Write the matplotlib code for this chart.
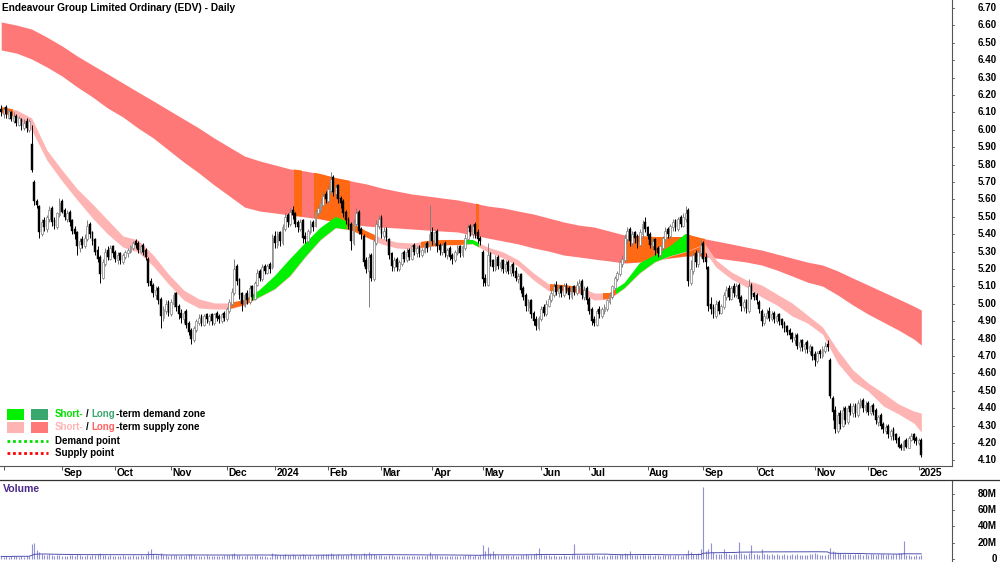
import matplotlib
matplotlib.use("Agg")
import matplotlib.pyplot as plt
import matplotlib.transforms as mtransforms
from matplotlib.patches import Rectangle
from matplotlib.lines import Line2D
import numpy as np
import pandas as pd

plt.rcParams['font.family'] = ['Liberation Sans', 'DejaVu Sans']

title = "Endeavour Group Limited Ordinary (EDV) - Daily"

# trading calendar (ASX)
first_day = '2023-07-31'
last_day = '2025-01-03'
asx_holidays = ['2023-12-25', '2023-12-26', '2024-01-01', '2024-01-26', '2024-03-29',
                '2024-04-01', '2024-04-25', '2024-06-10', '2024-12-25', '2024-12-26',
                '2025-01-01']

# daily OHLC
opens = [
    6.12, 6.09, 6.13, 6.07, 6.10, 6.05, 6.08, 6.03, 6.06, 6.01,
    6.05, 6.00, 5.92, 5.70, 5.59, 5.56, 5.40, 5.48, 5.43, 5.49,
    5.55, 5.48, 5.44, 5.51, 5.59, 5.54, 5.49, 5.53, 5.48, 5.43,
    5.41, 5.32, 5.37, 5.33, 5.37, 5.46, 5.41, 5.37, 5.31, 5.27,
    5.15, 5.23, 5.31, 5.26, 5.33, 5.30, 5.25, 5.29, 5.24, 5.27,
    5.29, 5.30, 5.32, 5.36, 5.35, 5.30, 5.34, 5.31, 5.26, 5.13,
    5.11, 5.05, 5.09, 5.03, 4.92, 4.96, 5.01, 4.94, 5.00, 5.06,
    4.99, 4.95, 4.91, 4.96, 4.89, 4.85, 4.79, 4.85, 4.89, 4.93,
    4.88, 4.94, 4.90, 4.94, 4.89, 4.95, 4.93, 4.90, 4.95, 4.91,
    4.96, 5.00, 5.06, 5.22, 5.14, 5.06, 4.99, 5.06, 5.01, 5.10,
    5.03, 5.11, 5.19, 5.14, 5.22, 5.18, 5.23, 5.21, 5.39, 5.34,
    5.41, 5.35, 5.43, 5.51, 5.46, 5.54, 5.52, 5.47, 5.43, 5.48,
    5.39, 5.36, 5.41, 5.47, 5.45, 5.52, 5.54, 5.57, 5.63, 5.59,
    5.65, 5.73, 5.63, 5.68, 5.61, 5.59, 5.53, 5.49, 5.46, 5.35,
    5.46, 5.53, 5.43, 5.39, 5.25, 5.19, 5.28, 5.14, 5.35, 5.45,
    5.50, 5.39, 5.43, 5.37, 5.29, 5.21, 5.26, 5.20, 5.23, 5.30,
    5.25, 5.31, 5.26, 5.34, 5.29, 5.33, 5.28, 5.30, 5.35, 5.33,
    5.41, 5.35, 5.42, 5.34, 5.30, 5.35, 5.28, 5.32, 5.28, 5.25,
    5.29, 5.33, 5.28, 5.32, 5.37, 5.45, 5.40, 5.46, 5.41, 5.38,
    5.30, 5.15, 5.11, 5.29, 5.25, 5.20, 5.27, 5.21, 5.25, 5.19,
    5.24, 5.18, 5.23, 5.19, 5.14, 5.17, 5.09, 5.05, 4.98, 5.02,
    4.95, 4.91, 4.86, 4.91, 4.98, 4.94, 4.99, 5.02, 5.05, 5.11,
    5.06, 5.10, 5.05, 5.11, 5.09, 5.04, 5.10, 5.06, 5.10, 5.13,
    5.04, 5.09, 5.03, 4.97, 4.91, 4.88, 4.97, 4.93, 4.96, 4.97,
    5.01, 5.04, 5.09, 5.14, 5.17, 5.23, 5.25, 5.37, 5.43, 5.35,
    5.41, 5.39, 5.34, 5.40, 5.47, 5.44, 5.40, 5.33, 5.37, 5.32,
    5.28, 5.32, 5.37, 5.43, 5.39, 5.44, 5.48, 5.43, 5.50, 5.45,
    5.49, 5.54, 5.12, 5.19, 5.29, 5.23, 5.29, 5.35, 5.27, 5.21,
    5.00, 4.98, 4.93, 5.01, 4.95, 4.98, 5.04, 5.09, 5.03, 5.10,
    5.05, 5.11, 5.04, 4.98, 5.02, 4.96, 5.11, 5.06, 5.05, 5.01,
    4.96, 4.89, 4.92, 4.96, 4.91, 4.95, 4.90, 4.94, 4.91, 4.89,
    4.87, 4.85, 4.83, 4.79, 4.82, 4.75, 4.79, 4.74, 4.78, 4.73,
    4.75, 4.71, 4.67, 4.73, 4.70, 4.73, 4.77, 4.68, 4.46, 4.39,
    4.27, 4.37, 4.30, 4.40, 4.32, 4.41, 4.37, 4.42, 4.36, 4.42,
    4.45, 4.39, 4.43, 4.37, 4.42, 4.39, 4.32, 4.36, 4.31, 4.27,
    4.30, 4.24, 4.28, 4.25, 4.23, 4.19, 4.16, 4.22, 4.17, 4.22,
    4.25, 4.23, 4.20, 4.22,
]
highs = [
    6.14, 6.13, 6.14, 6.12, 6.11, 6.10, 6.09, 6.08, 6.07, 6.06,
    6.07, 6.06, 6.03, 5.71, 5.60, 5.57, 5.49, 5.50, 5.51, 5.56,
    5.56, 5.50, 5.53, 5.61, 5.60, 5.55, 5.54, 5.54, 5.49, 5.45,
    5.42, 5.38, 5.39, 5.40, 5.48, 5.47, 5.42, 5.38, 5.33, 5.28,
    5.26, 5.32, 5.33, 5.34, 5.34, 5.31, 5.30, 5.30, 5.29, 5.31,
    5.32, 5.34, 5.36, 5.37, 5.36, 5.34, 5.35, 5.32, 5.27, 5.15,
    5.12, 5.10, 5.10, 5.04, 4.99, 5.02, 5.02, 5.03, 5.07, 5.07,
    5.00, 4.97, 4.96, 4.97, 4.90, 4.86, 4.87, 4.91, 4.94, 4.94,
    4.94, 4.95, 4.94, 4.95, 4.95, 4.96, 4.94, 4.95, 4.96, 4.98,
    5.03, 5.09, 5.26, 5.23, 5.15, 5.07, 5.06, 5.08, 5.11, 5.11,
    5.13, 5.20, 5.20, 5.23, 5.23, 5.23, 5.24, 5.40, 5.42, 5.42,
    5.42, 5.46, 5.52, 5.52, 5.55, 5.56, 5.53, 5.48, 5.49, 5.49,
    5.41, 5.43, 5.48, 5.48, 5.54, 5.57, 5.60, 5.64, 5.65, 5.68,
    5.76, 5.74, 5.69, 5.69, 5.62, 5.60, 5.54, 5.50, 5.47, 5.49,
    5.55, 5.54, 5.44, 5.40, 5.27, 5.29, 5.29, 5.37, 5.48, 5.51,
    5.51, 5.44, 5.44, 5.38, 5.30, 5.27, 5.27, 5.25, 5.30, 5.31,
    5.32, 5.32, 5.34, 5.35, 5.33, 5.34, 5.32, 5.35, 5.36, 5.57,
    5.44, 5.42, 5.43, 5.35, 5.35, 5.36, 5.32, 5.33, 5.29, 5.31,
    5.34, 5.34, 5.34, 5.40, 5.46, 5.46, 5.46, 5.47, 5.43, 5.39,
    5.31, 5.17, 5.35, 5.30, 5.26, 5.28, 5.28, 5.26, 5.26, 5.25,
    5.25, 5.23, 5.24, 5.21, 5.18, 5.18, 5.10, 5.06, 5.03, 5.03,
    4.96, 4.93, 4.93, 4.99, 5.00, 5.02, 5.05, 5.08, 5.12, 5.13,
    5.11, 5.11, 5.12, 5.12, 5.10, 5.10, 5.11, 5.13, 5.14, 5.14,
    5.10, 5.10, 5.04, 4.98, 4.93, 4.97, 4.99, 4.98, 5.00, 5.03,
    5.06, 5.11, 5.16, 5.19, 5.25, 5.28, 5.40, 5.44, 5.44, 5.42,
    5.42, 5.40, 5.43, 5.48, 5.50, 5.45, 5.41, 5.38, 5.38, 5.33,
    5.34, 5.39, 5.44, 5.44, 5.46, 5.49, 5.49, 5.50, 5.51, 5.52,
    5.56, 5.55, 5.25, 5.30, 5.31, 5.31, 5.37, 5.36, 5.29, 5.22,
    5.04, 5.00, 5.02, 5.02, 5.00, 5.07, 5.10, 5.11, 5.10, 5.12,
    5.12, 5.12, 5.05, 5.03, 5.03, 5.14, 5.12, 5.07, 5.06, 5.02,
    4.97, 4.95, 4.97, 4.98, 4.96, 4.96, 4.94, 4.95, 4.92, 4.90,
    4.88, 4.86, 4.84, 4.83, 4.83, 4.80, 4.80, 4.78, 4.79, 4.77,
    4.76, 4.73, 4.73, 4.74, 4.76, 4.78, 4.79, 4.69, 4.47, 4.41,
    4.38, 4.39, 4.41, 4.41, 4.42, 4.43, 4.43, 4.43, 4.45, 4.46,
    4.46, 4.44, 4.44, 4.42, 4.43, 4.40, 4.36, 4.37, 4.32, 4.31,
    4.31, 4.28, 4.29, 4.26, 4.24, 4.20, 4.22, 4.23, 4.24, 4.26,
    4.26, 4.24, 4.23, 4.23,
]
lows = [
    6.08, 6.07, 6.07, 6.06, 6.05, 6.04, 6.02, 6.02, 6.00, 6.00,
    5.99, 5.99, 5.76, 5.57, 5.55, 5.38, 5.39, 5.42, 5.41, 5.47,
    5.45, 5.43, 5.43, 5.50, 5.52, 5.48, 5.47, 5.45, 5.40, 5.37,
    5.28, 5.30, 5.32, 5.32, 5.36, 5.38, 5.34, 5.28, 5.24, 5.12,
    5.14, 5.22, 5.25, 5.25, 5.27, 5.24, 5.23, 5.23, 5.23, 5.26,
    5.27, 5.29, 5.31, 5.32, 5.29, 5.29, 5.28, 5.25, 5.10, 5.07,
    5.04, 5.03, 5.00, 4.86, 4.90, 4.94, 4.93, 4.93, 4.98, 4.96,
    4.91, 4.89, 4.89, 4.86, 4.82, 4.77, 4.78, 4.84, 4.88, 4.87,
    4.87, 4.89, 4.88, 4.88, 4.88, 4.90, 4.89, 4.89, 4.90, 4.90,
    4.95, 4.99, 5.05, 5.11, 5.03, 4.96, 4.98, 5.00, 5.00, 5.02,
    5.02, 5.10, 5.13, 5.13, 5.17, 5.17, 5.18, 5.20, 5.32, 5.32,
    5.33, 5.34, 5.42, 5.44, 5.45, 5.49, 5.44, 5.41, 5.42, 5.35,
    5.35, 5.35, 5.40, 5.42, 5.44, 5.51, 5.52, 5.56, 5.58, 5.58,
    5.63, 5.62, 5.61, 5.58, 5.55, 5.50, 5.46, 5.43, 5.31, 5.34,
    5.45, 5.40, 5.37, 5.22, 5.18, 4.98, 5.13, 5.13, 5.34, 5.43,
    5.38, 5.37, 5.36, 5.26, 5.19, 5.19, 5.19, 5.19, 5.22, 5.24,
    5.24, 5.25, 5.25, 5.28, 5.27, 5.27, 5.27, 5.29, 5.30, 5.31,
    5.34, 5.33, 5.30, 5.28, 5.28, 5.27, 5.26, 5.25, 5.23, 5.24,
    5.28, 5.27, 5.27, 5.31, 5.36, 5.39, 5.38, 5.38, 5.35, 5.34,
    5.10, 5.10, 5.10, 5.22, 5.19, 5.19, 5.20, 5.19, 5.18, 5.18,
    5.17, 5.16, 5.16, 5.13, 5.12, 5.06, 5.02, 4.96, 4.96, 4.92,
    4.88, 4.85, 4.85, 4.90, 4.93, 4.93, 4.98, 5.01, 5.04, 5.05,
    5.04, 5.04, 5.04, 5.06, 5.03, 5.03, 5.05, 5.05, 5.08, 5.03,
    5.02, 5.00, 4.94, 4.88, 4.87, 4.87, 4.92, 4.92, 4.94, 4.96,
    5.00, 5.03, 5.08, 5.13, 5.16, 5.21, 5.24, 5.35, 5.33, 5.33,
    5.35, 5.32, 5.33, 5.38, 5.41, 5.37, 5.32, 5.31, 5.28, 5.27,
    5.27, 5.31, 5.36, 5.38, 5.38, 5.42, 5.42, 5.42, 5.44, 5.44,
    5.47, 5.10, 5.11, 5.17, 5.21, 5.21, 5.27, 5.24, 5.20, 4.96,
    4.94, 4.92, 4.92, 4.94, 4.94, 4.97, 5.02, 5.02, 5.02, 5.04,
    5.04, 5.01, 4.96, 4.96, 4.95, 4.95, 5.03, 5.02, 5.00, 4.95,
    4.87, 4.88, 4.91, 4.90, 4.90, 4.89, 4.89, 4.88, 4.86, 4.84,
    4.82, 4.80, 4.78, 4.77, 4.74, 4.73, 4.73, 4.72, 4.72, 4.71,
    4.68, 4.64, 4.66, 4.69, 4.69, 4.72, 4.73, 4.46, 4.33, 4.26,
    4.26, 4.28, 4.29, 4.31, 4.31, 4.36, 4.35, 4.35, 4.35, 4.40,
    4.38, 4.37, 4.36, 4.36, 4.36, 4.31, 4.30, 4.28, 4.26, 4.25,
    4.23, 4.22, 4.22, 4.20, 4.17, 4.16, 4.16, 4.17, 4.17, 4.21,
    4.20, 4.19, 4.19, 4.12,
]
closes = [
    6.10, 6.12, 6.09, 6.11, 6.06, 6.08, 6.04, 6.07, 6.02, 6.04,
    6.01, 6.05, 5.77, 5.59, 5.57, 5.41, 5.47, 5.44, 5.50, 5.54,
    5.47, 5.45, 5.52, 5.58, 5.53, 5.50, 5.52, 5.47, 5.42, 5.40,
    5.33, 5.36, 5.34, 5.38, 5.45, 5.40, 5.36, 5.30, 5.26, 5.17,
    5.24, 5.30, 5.27, 5.32, 5.29, 5.26, 5.28, 5.25, 5.28, 5.30,
    5.31, 5.33, 5.35, 5.34, 5.31, 5.33, 5.30, 5.27, 5.12, 5.10,
    5.06, 5.08, 5.02, 4.93, 4.97, 5.00, 4.95, 5.01, 5.05, 4.98,
    4.94, 4.92, 4.95, 4.88, 4.84, 4.80, 4.86, 4.90, 4.92, 4.89,
    4.93, 4.91, 4.93, 4.90, 4.94, 4.92, 4.91, 4.94, 4.92, 4.97,
    5.01, 5.07, 5.20, 5.13, 5.05, 5.00, 5.05, 5.02, 5.09, 5.04,
    5.12, 5.18, 5.15, 5.21, 5.19, 5.22, 5.20, 5.38, 5.35, 5.40,
    5.36, 5.44, 5.50, 5.47, 5.53, 5.51, 5.46, 5.44, 5.47, 5.38,
    5.37, 5.42, 5.46, 5.44, 5.53, 5.55, 5.58, 5.62, 5.60, 5.66,
    5.72, 5.64, 5.67, 5.60, 5.58, 5.52, 5.48, 5.45, 5.36, 5.47,
    5.52, 5.42, 5.40, 5.24, 5.20, 5.27, 5.15, 5.36, 5.46, 5.49,
    5.40, 5.42, 5.38, 5.28, 5.22, 5.25, 5.21, 5.24, 5.29, 5.26,
    5.30, 5.27, 5.33, 5.30, 5.32, 5.29, 5.31, 5.34, 5.32, 5.40,
    5.36, 5.41, 5.33, 5.31, 5.34, 5.29, 5.31, 5.27, 5.26, 5.30,
    5.32, 5.29, 5.33, 5.38, 5.44, 5.41, 5.45, 5.40, 5.37, 5.36,
    5.14, 5.12, 5.28, 5.24, 5.21, 5.26, 5.22, 5.24, 5.20, 5.23,
    5.19, 5.22, 5.18, 5.15, 5.16, 5.08, 5.04, 4.99, 5.01, 4.94,
    4.90, 4.87, 4.92, 4.97, 4.95, 5.00, 5.03, 5.06, 5.10, 5.07,
    5.09, 5.06, 5.10, 5.08, 5.05, 5.09, 5.07, 5.11, 5.12, 5.05,
    5.08, 5.02, 4.96, 4.90, 4.89, 4.96, 4.94, 4.97, 4.98, 5.02,
    5.05, 5.10, 5.15, 5.18, 5.24, 5.26, 5.38, 5.42, 5.36, 5.40,
    5.38, 5.35, 5.41, 5.46, 5.43, 5.39, 5.34, 5.36, 5.31, 5.29,
    5.33, 5.38, 5.42, 5.40, 5.45, 5.47, 5.44, 5.49, 5.46, 5.50,
    5.52, 5.13, 5.20, 5.28, 5.24, 5.30, 5.34, 5.26, 5.24, 4.99,
    4.97, 4.94, 5.00, 4.96, 4.99, 5.05, 5.08, 5.04, 5.09, 5.06,
    5.10, 5.03, 4.99, 5.01, 4.97, 5.10, 5.05, 5.04, 5.02, 4.97,
    4.90, 4.93, 4.95, 4.92, 4.94, 4.91, 4.93, 4.90, 4.88, 4.86,
    4.84, 4.82, 4.80, 4.81, 4.76, 4.78, 4.75, 4.77, 4.74, 4.76,
    4.70, 4.68, 4.72, 4.71, 4.74, 4.76, 4.75, 4.47, 4.38, 4.28,
    4.36, 4.31, 4.39, 4.33, 4.40, 4.38, 4.41, 4.37, 4.43, 4.44,
    4.40, 4.42, 4.38, 4.41, 4.38, 4.33, 4.35, 4.30, 4.28, 4.29,
    4.25, 4.27, 4.24, 4.22, 4.18, 4.17, 4.21, 4.18, 4.23, 4.24,
    4.22, 4.21, 4.22, 4.13,
]
# volume in millions of shares
volume_m = [
    3.2, 2.8, 3.5, 2.9, 3.1, 4.0, 3.3, 2.7, 3.6, 3.0,
    3.4, 4.2, 18.5, 19.8, 11.5, 9.0, 6.2, 5.1, 4.4, 5.8,
    4.6, 3.9, 4.3, 5.2, 3.8, 4.1, 3.5, 4.7, 5.5, 4.0,
    6.1, 4.4, 3.7, 4.2, 5.0, 3.9, 4.5, 4.8, 5.6, 7.4,
    5.2, 4.3, 3.8, 4.6, 4.0, 3.6, 4.1, 3.9, 4.4, 3.7,
    4.2, 3.8, 4.5, 4.0, 3.6, 4.3, 3.9, 4.7, 9.8, 12.6,
    6.4, 5.5, 5.0, 7.2, 5.3, 4.6, 4.2, 4.8, 5.1, 4.4,
    4.0, 4.6, 3.9, 5.4, 5.9, 6.3, 4.8, 4.2, 3.7, 4.1,
    3.8, 4.4, 3.5, 3.9, 4.2, 3.6, 3.4, 4.0, 5.2, 4.7,
    5.0, 6.1, 7.8, 5.4, 4.6, 4.2, 3.8, 4.3, 3.6, 3.9,
    4.5, 4.8, 3.7, 4.2, 3.3, 2.9, 2.6, 6.9, 5.8, 5.1,
    4.6, 5.5, 6.2, 4.9, 5.3, 6.0, 4.7, 4.1, 4.4, 5.8,
    4.8, 4.2, 4.6, 3.9, 5.2, 4.7, 5.4, 5.9, 6.6, 5.7,
    7.3, 6.2, 5.1, 5.6, 4.8, 5.3, 4.6, 5.0, 7.9, 6.3,
    5.4, 5.2, 4.6, 6.8, 5.9, 8.1, 5.7, 6.4, 5.5, 4.9,
    4.5, 4.2, 3.9, 5.1, 4.4, 3.8, 4.0, 3.6, 4.2, 3.7,
    3.5, 3.9, 4.1, 3.6, 3.3, 3.8, 3.4, 4.0, 4.6, 8.7,
    5.3, 4.4, 4.8, 3.9, 3.6, 4.2, 3.7, 3.5, 3.9, 3.4,
    3.8, 3.5, 4.0, 4.6, 5.1, 4.3, 4.0, 4.7, 4.2, 5.3,
    16.8, 9.2, 15.3, 7.1, 10.2, 5.6, 4.9, 5.2, 4.5, 4.8,
    4.3, 4.0, 4.6, 4.2, 3.9, 5.4, 5.0, 5.7, 4.6, 5.5,
    6.0, 6.8, 13.8, 5.9, 4.8, 4.4, 4.7, 4.1, 4.5, 3.9,
    4.2, 3.8, 4.4, 4.0, 3.7, 4.6, 18.6, 5.0, 4.3, 5.2,
    4.7, 5.1, 5.5, 5.9, 5.3, 4.6, 4.2, 3.9, 4.4, 4.1,
    4.5, 4.8, 5.3, 5.0, 5.6, 6.2, 7.0, 6.1, 9.8, 5.4,
    4.9, 4.6, 5.2, 5.7, 5.0, 4.8, 4.5, 4.2, 4.9, 4.4,
    4.1, 4.6, 4.3, 4.8, 4.5, 4.0, 4.4, 4.7, 4.2, 5.0,
    5.6, 11.6, 8.3, 6.4, 5.9, 7.2, 11.8, 88.0, 9.5, 12.0,
    19.6, 8.2, 6.5, 5.8, 6.1, 11.7, 6.9, 5.6, 5.2, 5.9,
    6.3, 20.8, 7.4, 6.0, 5.5, 6.8, 16.9, 6.2, 5.7, 5.3,
    11.9, 6.4, 5.8, 5.5, 5.9, 5.2, 5.6, 5.0, 5.4, 5.8,
    5.1, 5.5, 6.0, 5.3, 5.7, 5.0, 5.4, 4.9, 5.2, 5.6,
    6.2, 6.8, 5.7, 5.4, 5.0, 5.3, 5.6, 13.5, 9.8, 8.6,
    7.4, 6.9, 6.1, 6.5, 5.8, 6.2, 5.5, 5.9, 6.3, 5.7,
    5.4, 5.8, 5.2, 5.6, 6.0, 5.3, 5.7, 6.4, 6.1, 5.5,
    5.9, 5.2, 6.3, 6.0, 6.8, 7.1, 22.5, 5.4, 4.7, 4.2,
    3.8, 4.6, 3.5, 5.3,
]

# zone edges, read every 6th trading day (bar number of each reading)
band_idx = list(range(0, 361, 6)) + [363]
lt_upper = [
    6.620, 6.602, 6.579, 6.533, 6.482, 6.424, 6.372, 6.321, 6.269, 6.217,
    6.166, 6.114, 6.062, 6.010, 5.953, 5.901, 5.849, 5.821, 5.798, 5.775,
    5.763, 5.746, 5.723, 5.706, 5.689, 5.666, 5.648, 5.631, 5.620, 5.608,
    5.597, 5.580, 5.562, 5.551, 5.533, 5.516, 5.493, 5.470, 5.452, 5.441,
    5.418, 5.395, 5.390, 5.384, 5.384, 5.384, 5.378, 5.361, 5.344, 5.326,
    5.309, 5.286, 5.263, 5.240, 5.223, 5.189, 5.148, 5.108, 5.068, 5.028,
    4.987, 4.964,
]
lt_lower = [
    6.459, 6.441, 6.407, 6.361, 6.309, 6.246, 6.189, 6.125, 6.074, 6.010,
    5.953, 5.884, 5.815, 5.752, 5.683, 5.620, 5.556, 5.533, 5.522, 5.510,
    5.499, 5.487, 5.470, 5.459, 5.447, 5.441, 5.436, 5.430, 5.424, 5.418,
    5.413, 5.395, 5.378, 5.361, 5.344, 5.321, 5.303, 5.280, 5.269, 5.257,
    5.246, 5.234, 5.240, 5.252, 5.263, 5.274, 5.274, 5.263, 5.252, 5.240,
    5.223, 5.194, 5.160, 5.125, 5.102, 5.051, 4.993, 4.941, 4.895, 4.849,
    4.798, 4.763,
]
st_upper = [
    6.131, 6.114, 6.068, 5.884, 5.769, 5.660, 5.574, 5.482, 5.390, 5.367,
    5.280, 5.171, 5.079, 5.028, 5.005, 5.005, 5.022, 5.079, 5.160, 5.257,
    5.349, 5.436, 5.499, 5.464, 5.418, 5.378, 5.355, 5.349, 5.361, 5.367,
    5.367, 5.367, 5.326, 5.298, 5.252, 5.177, 5.114, 5.108, 5.097, 5.062,
    5.062, 5.120, 5.234, 5.280, 5.332, 5.401, 5.378, 5.252, 5.183, 5.137,
    5.108, 5.056, 5.005, 4.936, 4.867, 4.734, 4.620, 4.545, 4.487, 4.424,
    4.384, 4.372,
]
st_lower = [
    6.097, 6.074, 5.999, 5.826, 5.706, 5.597, 5.493, 5.401, 5.326, 5.298,
    5.217, 5.114, 5.022, 4.976, 4.970, 4.970, 4.993, 5.039, 5.085, 5.160,
    5.269, 5.367, 5.436, 5.424, 5.383, 5.344, 5.321, 5.315, 5.326, 5.338,
    5.338, 5.344, 5.298, 5.263, 5.217, 5.137, 5.074, 5.074, 5.062, 5.022,
    5.028, 5.091, 5.177, 5.240, 5.274, 5.298, 5.332, 5.211, 5.143, 5.097,
    5.039, 4.993, 4.930, 4.890, 4.826, 4.660, 4.556, 4.499, 4.413, 4.367,
    4.315, 4.263,
]
# (first bar, last bar) where a zone changes colour
lt_orange_bars = [(116, 118), (124, 137), (188, 188), (247, 277)]
st_orange_bars = [(0, 4), (90, 99), (137, 147), (166, 182), (217, 228), (238, 242), (272, 277)]
st_green_bars = [(100, 136), (183, 188), (243, 271)]

RED = '#ff7878'
PINK = '#ffb4b4'
GREEN = '#00f000'
DKGREEN = '#3aa86e'
ORANGE = '#ff6914'
AXIS = '#555555'

W, H = 1000, 562
fig = plt.figure(figsize=(W / 100, H / 100), dpi=100)
ax = fig.add_axes([0, (H - 466) / H, 952 / W, 466 / H])
axv = fig.add_axes([0, 0, 952 / W, 82 / H])

dates = pd.bdate_range(first_day, last_day, freq='C', holidays=asx_holidays)
x = np.arange(len(dates))
o = np.array(opens)
c = np.array(closes)
h = np.maximum(np.array(highs), np.maximum(o, c))
l = np.minimum(np.array(lows), np.minimum(o, c))

xmin, xmax = -0.473, 375.1
ax.set_xlim(xmin, xmax)
axv.set_xlim(xmin, xmax)
ax.set_ylim(4.068, 6.746)
axv.set_ylim(-3.7, 96.9)

# long-term zone with its orange parts
lt = ax.fill_between(band_idx, lt_lower, lt_upper, color=RED, lw=0, zorder=1)
for a, b in lt_orange_bars:
    sp = ax.axvspan(a - 0.5, b + 0.5, color=ORANGE, lw=0, zorder=1.2)
    sp.set_clip_path(lt.get_paths()[0], lt.get_transform())

# short-term zone
st = ax.fill_between(band_idx, st_lower, st_upper, color=PINK, lw=0, zorder=2)
for spans, col in ((st_orange_bars, ORANGE), (st_green_bars, GREEN)):
    for a, b in spans:
        sp = ax.axvspan(a - 0.5, b + 0.5, color=col, lw=0, zorder=2.2)
        sp.set_clip_path(st.get_paths()[0], st.get_transform())

# candles
up = c >= o
body = np.maximum(np.abs(c - o), 0.004)
bottom = np.minimum(o, c)
ax.vlines(x[up], l[up], h[up], color='#808080', lw=0.7, zorder=3)
ax.vlines(x[~up], l[~up], h[~up], color='black', lw=0.7, zorder=3)
ax.bar(x[up], body[up], bottom=bottom[up], width=0.72, color='white',
       edgecolor='#808080', lw=0.5, zorder=4)
ax.bar(x[~up], body[~up], bottom=bottom[~up], width=0.72, color='black',
       edgecolor='black', lw=0.3, zorder=4)

# volume
vol = np.array(volume_m)
axv.vlines(x, 0, vol, color='#9090d6', lw=0.8)
axv.plot(x, pd.Series(vol).rolling(50, min_periods=1).mean(), color='#5050b0', lw=0.7)

for a in (ax, axv):
    a.spines['left'].set_visible(False)
    a.spines['right'].set_color(AXIS)
    a.spines['right'].set_linewidth(0.8)
    a.set_yticks([])
    a.patch.set_alpha(0)
ax.spines['top'].set_visible(False)
ax.spines['bottom'].set_color(AXIS)
ax.spines['bottom'].set_linewidth(0.8)
axv.spines['top'].set_visible(False)
axv.spines['bottom'].set_visible(False)
axv.set_xticks([])
fig.add_artist(Line2D([0, 1], [82 / H, 82 / H], color='#333333', lw=0.9))

# price labels on the right
ytr = mtransforms.blended_transform_factory(fig.transFigure, ax.transData)
prices = np.round(np.arange(4.1, 6.705, 0.1), 2)
for p in prices:
    ax.plot([xmax, xmax + 0.9], [p, p], color=AXIS, lw=0.6, clip_on=False)
    ax.text(997 / W, p, f'{p:.2f}', transform=ytr, ha='right', va='center',
            fontsize=7, weight='bold', clip_on=False)
vtr = mtransforms.blended_transform_factory(fig.transFigure, axv.transData)
for v in [0, 20, 40, 60, 80]:
    axv.plot([xmax, xmax + 0.9], [v, v], color=AXIS, lw=0.6, clip_on=False)
    axv.text(997 / W, v, '0' if v == 0 else f'{v}M', transform=vtr, ha='right',
             va='center', fontsize=7, weight='bold', clip_on=False)

# month ticks and labels in the date strip
months = dates.to_period('M')
tick_pos = [i for i in range(1, len(dates)) if months[i] != months[i - 1]]
ax.set_xticks(tick_pos)
ax.tick_params(axis='x', direction='out', length=3, width=0.7, color=AXIS,
               labelbottom=False)
xtr = mtransforms.blended_transform_factory(ax.transData, fig.transFigure)
for i in tick_pos:
    if i < 10:
        continue
    d = dates[i]
    lab = str(d.year) if d.month == 1 else d.strftime('%b')
    ax.text(i + 0.5, 1 - 473.5 / H, lab, transform=xtr, ha='left', va='center',
            fontsize=7.4, weight='bold', clip_on=False)

fig.text(2 / W, 1 - 8 / H, title, fontsize=7.3, weight='bold', va='center')
fig.text(3 / W, 1 - 489 / H, 'Volume', fontsize=7.6, weight='bold',
         color='#4b2a8c', va='center')

# legend
renderer = fig.canvas.get_renderer()


def text_w(s):
    t = fig.text(0, 0, s, fontsize=7, weight='bold')
    w = t.get_window_extent(renderer).width
    t.remove()
    return w


def legend_text(px, py, parts):
    prefix = ''
    for s, col in parts:
        off = text_w(prefix + 'x') - text_w('x') if prefix else 0
        if col is not None:
            fig.text((px + off) / W, 1 - py / H, s, color=col, fontsize=7,
                     weight='bold', va='center')
        prefix += s


for py, c1, c2 in ((414, GREEN, DKGREEN), (427, PINK, RED)):
    fig.add_artist(Rectangle((7 / W, 1 - (py + 6) / H), 17 / W, 11 / H,
                             transform=fig.transFigure, color=c1, lw=0))
    fig.add_artist(Rectangle((31 / W, 1 - (py + 6) / H), 17 / W, 11 / H,
                             transform=fig.transFigure, color=c2, lw=0))

legend_text(55, 414, [('Short-', '#00e000'), (' ', None), ('/', 'black'), (' ', None),
                      ('Long', DKGREEN), ('-term demand zone', 'black')])
legend_text(55, 427, [('Short-', PINK), (' ', None), ('/', 'black'), (' ', None),
                      ('Long', '#ff6060'), ('-term supply zone', 'black')])
for py, col, lab in ((441, '#00e000', 'Demand point'), (453, '#ff0000', 'Supply point')):
    fig.add_artist(Line2D([7 / W, 48 / W], [1 - py / H, 1 - py / H], color=col,
                          lw=2, ls=(0, (1, 1))))
    fig.text(55 / W, 1 - py / H, lab, fontsize=7, weight='bold', va='center')

fig.savefig('out.png', dpi=100, facecolor='white')
